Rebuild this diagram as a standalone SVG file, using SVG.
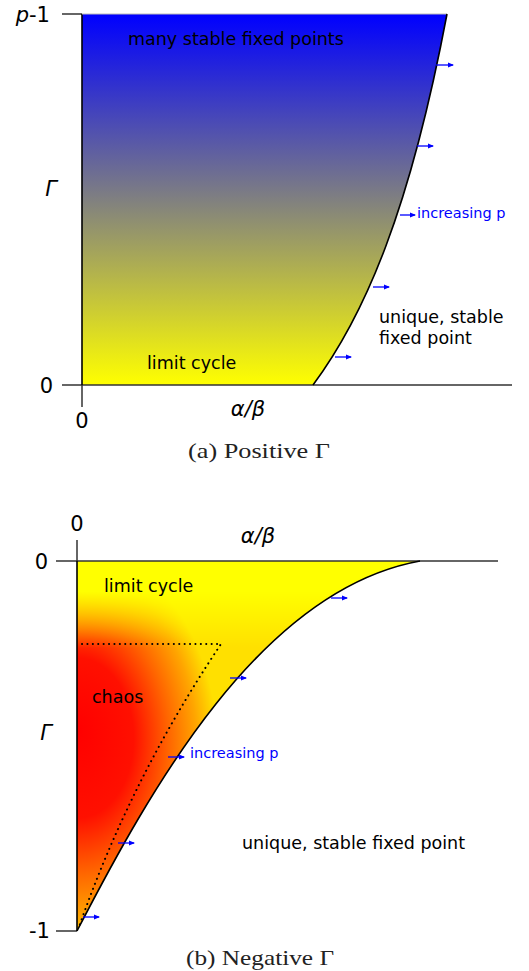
<svg xmlns="http://www.w3.org/2000/svg" width="529" height="971" viewBox="0 0 529 971">
<style>
.lbl{font-family:"DejaVu Sans",sans-serif;font-size:17.5px;fill:#000}
.ax{font-family:"DejaVu Sans",sans-serif;font-size:21px;fill:#000}
.it{font-style:italic}
.blue{font-family:"DejaVu Sans",sans-serif;font-size:14.5px;fill:#0000ff}
.cap{font-family:"Liberation Serif",serif;font-size:22px;fill:#222}
.axis{stroke:#333;stroke-width:1.5;fill:none}
.edge{stroke:#000;stroke-width:1.6;fill:none}
.arr{stroke:#0000ff;stroke-width:1.3;fill:none;marker-end:url(#ah)}
.dot{stroke:#000;stroke-width:2;fill:none;stroke-dasharray:0.1 5.3;stroke-linecap:round}
</style>
<defs>
<marker id="ah" markerWidth="6" markerHeight="6" refX="5" refY="3" orient="auto" markerUnits="userSpaceOnUse">
<path d="M0,0.5 L6,3 L0,5.5 z" fill="#0000ff"/>
</marker>
<linearGradient id="gA" gradientUnits="userSpaceOnUse" x1="0" y1="14" x2="0" y2="385">
<stop offset="0" stop-color="#0000ff"/>
<stop offset="0.5" stop-color="#808080"/>
<stop offset="1" stop-color="#ffff00"/>
</linearGradient>
<radialGradient id="gB" gradientUnits="userSpaceOnUse" cx="78" cy="750" r="200" fx="78" fy="730" gradientTransform="translate(77,0) scale(0.7,1) translate(-77,0)">
<stop offset="0" stop-color="#ff0000"/>
<stop offset="0.4" stop-color="#ff1000"/>
<stop offset="0.65" stop-color="#ff6500"/>
<stop offset="0.85" stop-color="#ffa500"/>
<stop offset="1" stop-color="#ffe000"/>
</radialGradient>
<linearGradient id="gY" gradientUnits="userSpaceOnUse" x1="0" y1="561" x2="0" y2="648">
<stop offset="0" stop-color="#ffff00" stop-opacity="1"/>
<stop offset="0.35" stop-color="#ffff00" stop-opacity="1"/>
<stop offset="1" stop-color="#ffff00" stop-opacity="0"/>
</linearGradient>
</defs>

<g id="panelA">
<path d="M82,385 L82,14 L447,14 C410,210 365,315 313,385 Z" fill="url(#gA)"/>
<line class="axis" x1="62" y1="385" x2="512" y2="385"/>
<line class="axis" x1="82" y1="385" x2="82" y2="407"/>
<line class="axis" x1="62" y1="14" x2="82" y2="14"/>
<path class="edge" d="M82,385 L82,14"/>
<line x1="82" y1="14" x2="447" y2="14" stroke="#bbb" stroke-width="1"/>
<path class="edge" d="M447,14 C410,210 365,315 313,385"/>
<text class="ax" x="50" y="22" text-anchor="end"><tspan class="it">p</tspan>-1</text>
<text class="ax it" x="51" y="196" text-anchor="middle">Γ</text>
<text class="ax" x="53" y="393" text-anchor="end">0</text>
<text class="ax" x="82" y="428" text-anchor="middle">0</text>
<text class="ax it" x="248" y="416" text-anchor="middle">α/β</text>
<text class="lbl" x="128" y="45">many stable fixed points</text>
<text class="lbl" x="147" y="369">limit cycle</text>
<text class="lbl" x="379" y="323">unique, stable</text>
<text class="lbl" x="379" y="344">fixed point</text>
<text class="blue" x="417" y="218">increasing p</text>
<text class="cap" x="188" y="458" textLength="142" lengthAdjust="spacingAndGlyphs">(a) Positive Γ</text>
</g>

<g id="panelB">
<path d="M77,931 L77,561 L420,561 C260,590 150,790 77,931 Z" fill="url(#gB)"/>
<path d="M77,931 L77,561 L420,561 C260,590 150,790 77,931 Z" fill="url(#gY)"/>
<line class="axis" x1="56" y1="561" x2="498" y2="561"/>
<line class="axis" x1="77" y1="540" x2="77" y2="561"/>
<line class="axis" x1="56" y1="931" x2="77" y2="931"/>
<path class="edge" d="M77,561 L77,931"/>
<path class="edge" d="M420,561 C260,590 150,790 77,931"/>
<path class="dot" d="M82,644 L221,644 Q130,780 79,927"/>
<text class="ax" x="77" y="531" text-anchor="middle">0</text>
<text class="ax" x="48" y="569" text-anchor="end">0</text>
<text class="ax it" x="258" y="543" text-anchor="middle">α/β</text>
<text class="ax it" x="46" y="740" text-anchor="middle">Γ</text>
<text class="ax" x="50" y="938" text-anchor="end">-1</text>
<text class="lbl" x="104" y="592">limit cycle</text>
<text class="lbl" x="92" y="703">chaos</text>
<text class="lbl" x="242" y="849">unique, stable fixed point</text>
<text class="blue" x="190" y="758">increasing p</text>
<text class="cap" x="186" y="965" textLength="148" lengthAdjust="spacingAndGlyphs">(b) Negative Γ</text>
</g>

<g id="connectors">
<path class="arr" d="M436,65 H453"/>
<path class="arr" d="M417,146 H433"/>
<path class="arr" d="M400,215 H415"/>
<path class="arr" d="M373,287 H389"/>
<path class="arr" d="M335,357 H351"/>
<path class="arr" d="M331,598 H347"/>
<path class="arr" d="M230,678 H246"/>
<path class="arr" d="M168,757 H184"/>
<path class="arr" d="M118,843 H134"/>
<path class="arr" d="M83,917 H99"/>
</g>
</svg>
